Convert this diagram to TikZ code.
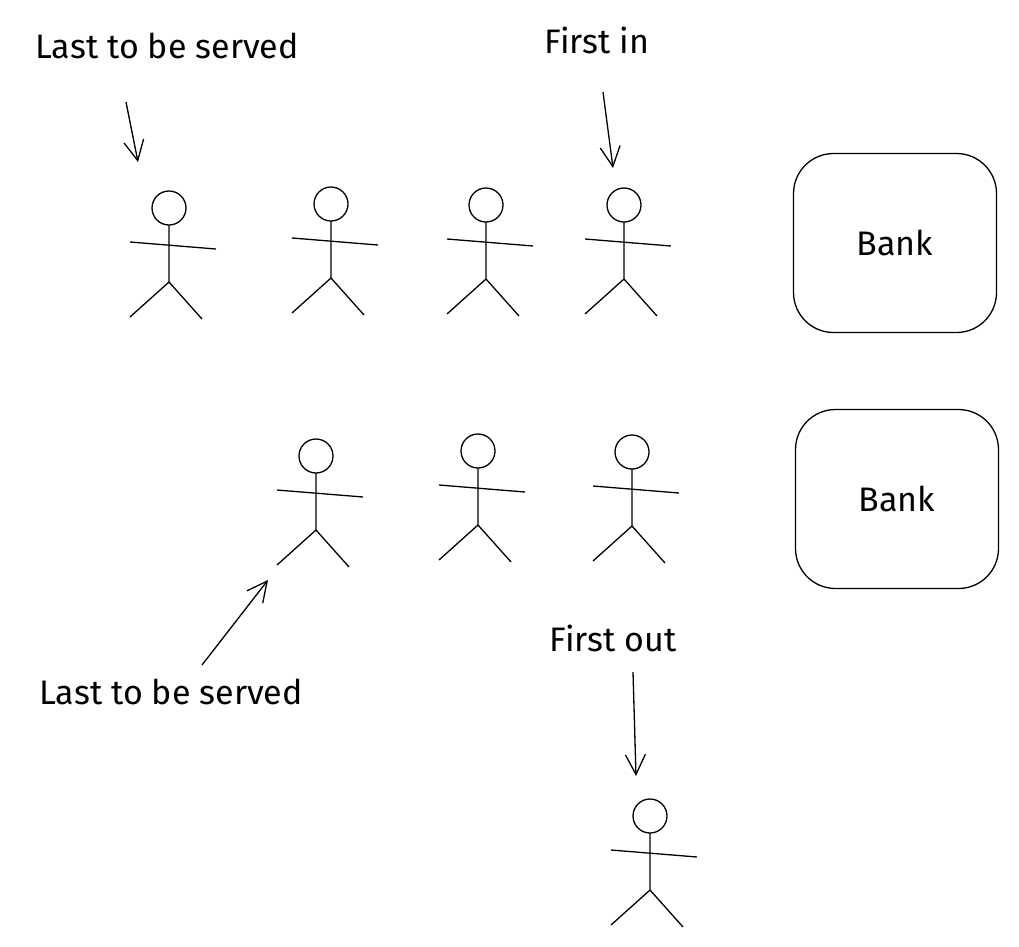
\documentclass[tikz,border=0pt]{standalone}
\usepackage{fontspec}
\setmainfont{Fira Sans}
\usetikzlibrary{arrows.meta}
\tikzset{
  bank/.style={draw, line width=1.3pt, rounded corners=40pt, minimum width=203pt, minimum height=179pt},
  label/.style={font=\fontsize{34}{40}\selectfont},
  pointer/.style={line width=1.3pt, -{Straight Barb[length=20pt,width=20pt]}}
}
\newcommand\stickman[2]{% head centre
  \begin{scope}[shift={(#1,#2)}]
    \draw[line width=1.3pt] (0,0) circle (17);
    \draw[line width=1.3pt] (-39,34) -- (47,41);
    \draw[line width=1.3pt] (0,17) -- (0,74) -- (-39,109);
    \draw[line width=1.3pt] (0,74) -- (33,111);
  \end{scope}}
\begin{document}
\begin{tikzpicture}[x=1pt,y=-1pt]
\useasboundingbox (0,0) rectangle (1019,946);
% queue
\foreach \xh/\yh in {169/208, 331/204, 486/205, 624/205, 316/456, 478/451, 632/452, 650/816}
  \stickman{\xh}{\yh};
\node[bank] (bank1) at (895,243) {};
\node[label] at (bank1) {Bank};
\node[bank] (bank2) at (897,499) {};
\node[label] at (bank2) {Bank};
% labels
\node[label] (lastA) at (167,46) {Last to be served};
\node[label] (firstin) at (597,40) {First in};
\node[label] (lastB) at (171,692) {Last to be served};
\node[label] (firstout) at (613,638) {First out};
% arrows
\coordinate (a1) at (126,102); \coordinate (b1) at (138,162);
\coordinate (a2) at (603,92);  \coordinate (b2) at (613,168);
\coordinate (a3) at (202,665); \coordinate (b3) at (268,580);
\coordinate (a4) at (633,672); \coordinate (b4) at (636,776);
\draw[pointer] (a1) -- (b1);
\draw[pointer] (a2) -- (b2);
\draw[pointer] (a3) -- (b3);
\draw[pointer] (a4) -- (b4);
\end{tikzpicture}
\end{document}
